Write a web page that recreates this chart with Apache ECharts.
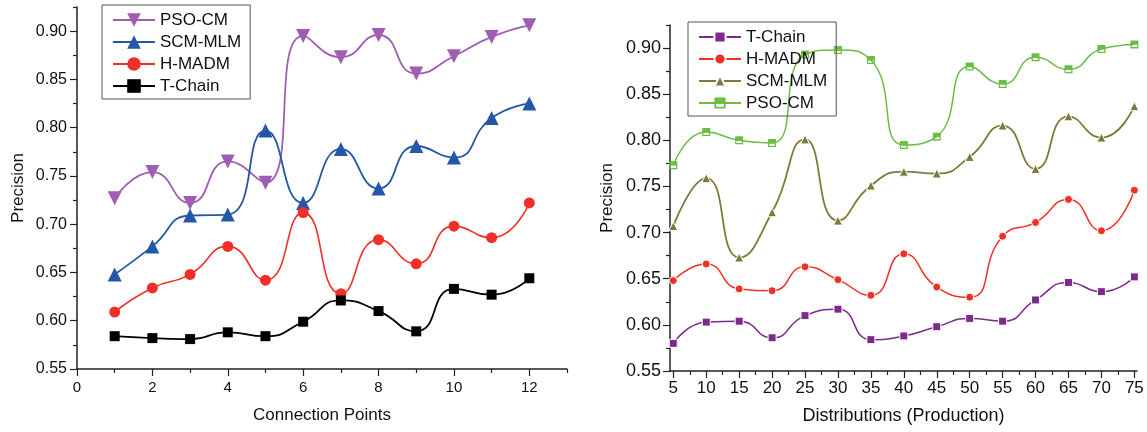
<!DOCTYPE html>
<html>
<head>
<meta charset="utf-8">
<script src="https://cdn.jsdelivr.net/npm/echarts@6/dist/echarts.min.js"></script>
<style>
  html, body { margin: 0; padding: 0; background: #fff; }
  #left { position: absolute; left: 0; top: 0; width: 590px; height: 432px; }
  #right { position: absolute; left: 590px; top: 0; width: 557px; height: 432px; }
</style>
</head>
<body>
<div id="left"></div>
<div id="right"></div>
<script>
// left panel: precision vs connection points
const connPoints = [1, 2, 3, 4, 5, 6, 7, 8, 9, 10, 11, 12];
const leftPso = [0.727, 0.754, 0.722, 0.765, 0.743, 0.895, 0.873, 0.896, 0.856, 0.874, 0.894, 0.906];
const leftScm = [0.648, 0.677, 0.709, 0.710, 0.797, 0.722, 0.778, 0.737, 0.781, 0.769, 0.810, 0.825];
const leftHmadm = [0.609, 0.634, 0.648, 0.677, 0.642, 0.712, 0.628, 0.684, 0.659, 0.698, 0.686, 0.722];
const leftTchain = [0.584, 0.582, 0.581, 0.588, 0.584, 0.599, 0.621, 0.610, 0.589, 0.633, 0.627, 0.644];

// right panel: precision vs distributions
const distributions = [5, 10, 15, 20, 25, 30, 35, 40, 45, 50, 55, 60, 65, 70, 75];
const rightTchain = [0.580, 0.603, 0.604, 0.586, 0.610, 0.617, 0.584, 0.588, 0.598, 0.607, 0.604, 0.627, 0.646, 0.636, 0.652];
const rightHmadm = [0.648, 0.666, 0.639, 0.637, 0.663, 0.649, 0.632, 0.677, 0.641, 0.630, 0.696, 0.711, 0.736, 0.702, 0.746];
const rightScm = [0.707, 0.759, 0.673, 0.722, 0.801, 0.713, 0.751, 0.766, 0.764, 0.782, 0.816, 0.769, 0.826, 0.803, 0.837];
const rightPso = [0.773, 0.809, 0.800, 0.797, 0.893, 0.898, 0.887, 0.795, 0.804, 0.880, 0.861, 0.890, 0.877, 0.899, 0.904];

// tick labels
const precTicks = [0.55, 0.60, 0.65, 0.70, 0.75, 0.80, 0.85, 0.90];
const precMinor = [0.575, 0.625, 0.675, 0.725, 0.775, 0.825, 0.875, 0.925];
const connTicks = [0, 2, 4, 6, 8, 10, 12];
const connMinor = [1, 3, 5, 7, 9, 11, 13];
const distTicks = [5, 10, 15, 20, 25, 30, 35, 40, 45, 50, 55, 60, 65, 70, 75];
const distMinor = [7.5, 12.5, 17.5, 22.5, 27.5, 32.5, 37.5, 42.5, 47.5, 52.5, 57.5, 62.5, 67.5, 72.5];

const FONT = "'Liberation Sans', Arial, sans-serif";
const AXIS_COLOR = '#222';

const pairs = (xs, ys) => xs.map((x, i) => [x, ys[i]]);

function axisPair(opts) {
  // main axis with labels + long ticks, ghost axis with the short minor ticks
  const main = {
    type: 'value',
    min: opts.min,
    max: opts.max,
    position: opts.position,
    name: opts.name,
    nameLocation: 'middle',
    nameGap: opts.nameGap,
    nameMoveOverlap: false,
    nameTextStyle: { fontFamily: FONT, fontSize: opts.nameSize, color: '#111' },
    splitLine: { show: false },
    axisLine: { show: true, lineStyle: { color: AXIS_COLOR, width: 1.5 } },
    axisTick: { show: true, customValues: opts.ticks, length: 7, lineStyle: { color: AXIS_COLOR, width: 1.2 } },
    axisLabel: {
      customValues: opts.ticks,
      fontFamily: FONT,
      fontSize: opts.labelSize,
      color: '#111',
      margin: opts.margin,
      formatter: opts.fmt
    }
  };
  const ghost = {
    type: 'value',
    min: opts.min,
    max: opts.max,
    position: opts.position,
    splitLine: { show: false },
    axisLine: { show: false },
    axisTick: { show: true, customValues: opts.minor, length: 4, lineStyle: { color: AXIS_COLOR, width: 1.2 } },
    axisLabel: { show: false }
  };
  return [main, ghost];
}

function lineSeries(name, data, color, symbol, size, width, border) {
  return {
    name: name,
    type: 'line',
    data: data,
    smooth: 0.55,
    symbol: symbol,
    symbolSize: size,
    lineStyle: { color: color, width: width },
    itemStyle: { color: color, borderColor: border ? '#fff' : color, borderWidth: border ? 1 : 0 },
    emphasis: { disabled: true },
    z: 3
  };
}

function legendOf(names, left, top, iconH) {
  return {
    orient: 'vertical',
    left: left,
    top: top,
    data: names,
    itemWidth: 42,
    itemHeight: iconH,
    itemGap: 2,
    padding: [5, 9, 3, 10],
    borderColor: '#555',
    borderWidth: 1,
    textStyle: { fontFamily: FONT, fontSize: 17, color: '#111', lineHeight: 20 }
  };
}

const invTriangle = 'path://M0,0L10,0L5,9Z';
const halfSquare = 'path://M0,0H10V10H0Z M1.6,5.4V8.4H8.4V5.4Z';

const left = echarts.init(document.getElementById('left'), null, { renderer: 'canvas' });
left.setOption({
  animation: false,
  grid: { left: 77, top: 7, width: 490, height: 362 },
  xAxis: axisPair({
    min: 0, max: 13, ticks: connTicks, minor: connMinor, position: 'bottom',
    name: 'Connection Points', nameGap: 38, nameSize: 17, labelSize: 15, margin: 11,
    fmt: v => String(v)
  }),
  yAxis: axisPair({
    min: 0.55, max: 0.925, ticks: precTicks, minor: precMinor, position: 'left',
    name: 'Precision', nameGap: 50, nameSize: 17, labelSize: 16, margin: 10,
    fmt: v => v.toFixed(2)
  }),
  legend: legendOf(['PSO-CM', 'SCM-MLM', 'H-MADM', 'T-Chain'], 102, 5, 17),
  series: [
    lineSeries('PSO-CM', pairs(connPoints, leftPso), '#9f5db3', invTriangle, 14, 1.8, false),
    lineSeries('SCM-MLM', pairs(connPoints, leftScm), '#2457a8', 'triangle', 14, 1.8, false),
    lineSeries('H-MADM', pairs(connPoints, leftHmadm), '#ef2f28', 'circle', 11, 1.6, false),
    lineSeries('T-Chain', pairs(connPoints, leftTchain), '#000000', 'rect', 10, 1.8, false)
  ]
});

const right = echarts.init(document.getElementById('right'), null, { renderer: 'canvas' });
right.setOption({
  animation: false,
  grid: { left: 80, top: 25, width: 467, height: 346 },
  xAxis: axisPair({
    min: 4.5, max: 75.4, ticks: distTicks, minor: distMinor, position: 'bottom',
    name: 'Distributions (Production)', nameGap: 36, nameSize: 18, labelSize: 17, margin: 9,
    fmt: v => String(v)
  }),
  yAxis: axisPair({
    min: 0.55, max: 0.925, ticks: precTicks, minor: precMinor, position: 'left',
    name: 'Precision', nameGap: 54, nameSize: 17, labelSize: 18, margin: 9,
    fmt: v => v.toFixed(2)
  }),
  legend: legendOf(['T-Chain', 'H-MADM', 'SCM-MLM', 'PSO-CM'], 98, 22, 14),
  series: [
    lineSeries('T-Chain', pairs(distributions, rightTchain), '#7c2b8b', 'rect', 8, 1.5, true),
    lineSeries('H-MADM', pairs(distributions, rightHmadm), '#ee3026', 'circle', 8, 1.5, true),
    lineSeries('SCM-MLM', pairs(distributions, rightScm), '#7e7a3b', 'triangle', 9, 1.8, true),
    lineSeries('PSO-CM', pairs(distributions, rightPso), '#6bbd45', halfSquare, 8, 1.5, false)
  ]
});
</script>
</body>
</html>
